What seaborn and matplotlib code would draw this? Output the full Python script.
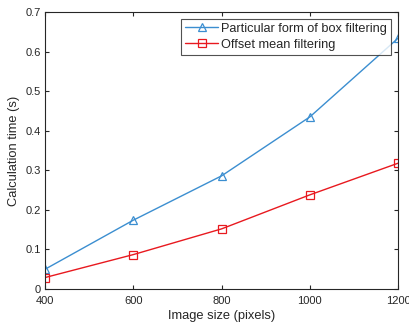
import matplotlib
matplotlib.use("Agg")
import matplotlib.pyplot as plt
import seaborn as sns
import pandas as pd

image_size = [400, 600, 800, 1000, 1200]
box_filter = [0.050, 0.174, 0.286, 0.435, 0.634]
offset_mean = [0.029, 0.087, 0.152, 0.238, 0.318]
series_names = ["Particular form of box filtering", "Offset mean filtering"]

sns.set_style("ticks")
plt.rcParams['font.family'] = ['Liberation Sans', 'DejaVu Sans']

df = pd.DataFrame({
    "size": image_size * 2,
    "time": box_filter + offset_mean,
    "method": [series_names[0]] * 5 + [series_names[1]] * 5,
})

colors = ["#3b8ed0", "#e8191f"]
fig = plt.figure(figsize=(4.10, 3.26), dpi=100)
ax = fig.add_axes([0.11, 0.1135, 0.861, 0.8495])
sns.lineplot(data=df, x="size", y="time", hue="method", style="method",
             markers=["^", "s"], dashes=False,
             palette=colors, linewidth=1.0,
             markersize=5.5, markerfacecolor="none", markeredgewidth=0.9,
             ax=ax)
for line, c in zip(ax.lines[:2], colors):
    line.set_markeredgecolor(c)
    line.set_markerfacecolor("none")

ax.set_xlim(400, 1200)
ax.set_ylim(0, 0.7)
ax.set_xticks([400, 600, 800, 1000, 1200])
ax.set_yticks([0, 0.1, 0.2, 0.3, 0.4, 0.5, 0.6, 0.7])
ax.set_yticklabels(["0", "0.1", "0.2", "0.3", "0.4", "0.5", "0.6", "0.7"])
ax.tick_params(direction="in", top=True, right=True, labelsize=8, length=3, width=0.8, colors="#262626")
ax.tick_params(axis="x", pad=5)
ax.tick_params(axis="y", pad=3)
for s in ax.spines.values():
    s.set_linewidth(0.8)
    s.set_color("#262626")
ax.set_xlabel("Image size (pixels)", fontsize=9.3, color="#262626", labelpad=3)
ax.set_ylabel("Calculation time (s)", fontsize=9.3, color="#262626", labelpad=4)

handles, labels = ax.get_legend_handles_labels()
for h, c in zip(handles, colors):
    h.set_markerfacecolor("none")
    h.set_markeredgecolor(c)
leg = ax.legend(handles, labels, loc="upper right", fontsize=9.2, frameon=True,
                fancybox=False, edgecolor="#262626", borderpad=0.3,
                handlelength=2.6, handletextpad=0.25, labelspacing=0.3,
                borderaxespad=0.55)
leg.get_frame().set_linewidth(0.8)

fig.savefig("out.png", dpi=100)
